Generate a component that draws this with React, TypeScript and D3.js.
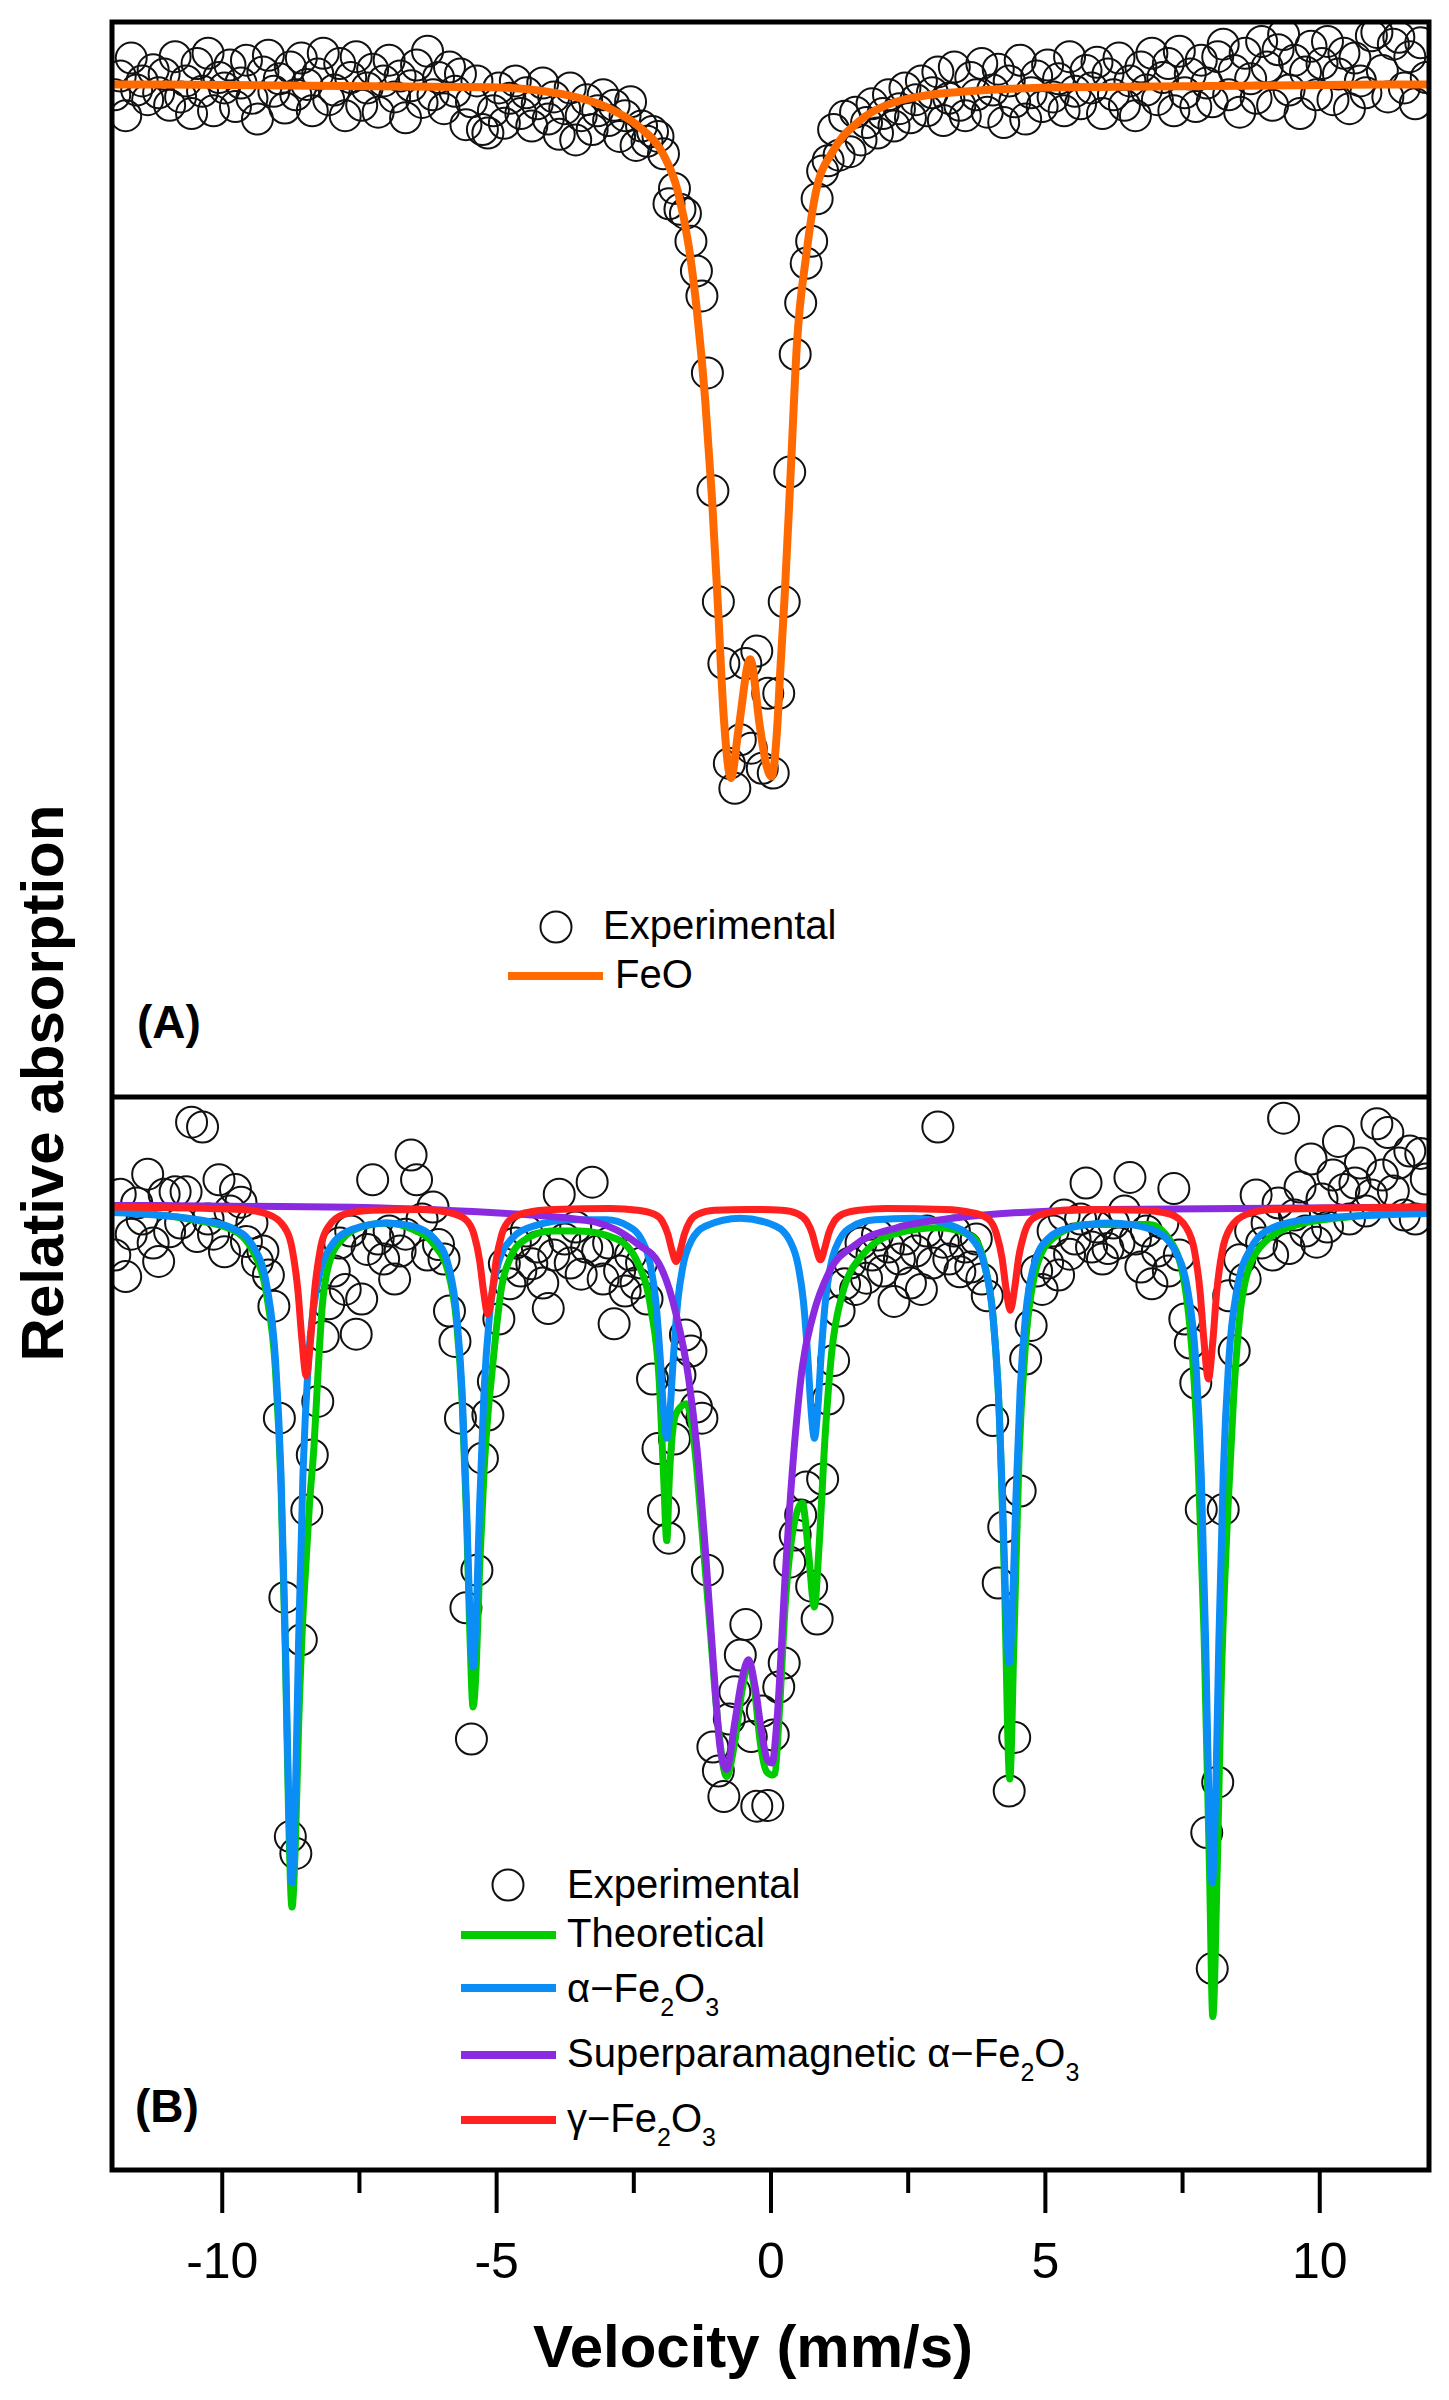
import * as d3 from 'd3';
import { useEffect, useRef } from 'react';

// channel velocities (mm/s), shared by both spectra
const velocity = [
  -11.95, -11.85, -11.75, -11.65, -11.55, -11.45, -11.35, -11.25, -11.15, -11.05,
  -10.95, -10.85, -10.75, -10.65, -10.55, -10.45, -10.35, -10.25, -10.15, -10.05,
  -9.95, -9.85, -9.75, -9.65, -9.55, -9.45, -9.35, -9.25, -9.15, -9.05,
  -8.95, -8.85, -8.75, -8.65, -8.55, -8.45, -8.35, -8.25, -8.15, -8.05,
  -7.95, -7.85, -7.75, -7.65, -7.55, -7.45, -7.35, -7.25, -7.15, -7.05,
  -6.95, -6.85, -6.75, -6.65, -6.55, -6.45, -6.35, -6.25, -6.15, -6.05,
  -5.95, -5.85, -5.75, -5.65, -5.55, -5.45, -5.35, -5.25, -5.15, -5.05,
  -4.95, -4.85, -4.75, -4.65, -4.55, -4.45, -4.35, -4.25, -4.15, -4.05,
  -3.95, -3.85, -3.75, -3.65, -3.55, -3.45, -3.35, -3.25, -3.15, -3.05,
  -2.95, -2.85, -2.75, -2.65, -2.55, -2.45, -2.35, -2.25, -2.15, -2.05,
  -1.95, -1.85, -1.75, -1.65, -1.55, -1.45, -1.35, -1.25, -1.15, -1.05,
  -0.95, -0.85, -0.75, -0.65, -0.55, -0.45, -0.35, -0.25, -0.15, -0.05,
  0.05, 0.15, 0.25, 0.35, 0.45, 0.55, 0.65, 0.75, 0.85, 0.95,
  1.05, 1.15, 1.25, 1.35, 1.45, 1.55, 1.65, 1.75, 1.85, 1.95,
  2.05, 2.15, 2.25, 2.35, 2.45, 2.55, 2.65, 2.75, 2.85, 2.95,
  3.05, 3.15, 3.25, 3.35, 3.45, 3.55, 3.65, 3.75, 3.85, 3.95,
  4.05, 4.15, 4.25, 4.35, 4.45, 4.55, 4.65, 4.75, 4.85, 4.95,
  5.05, 5.15, 5.25, 5.35, 5.45, 5.55, 5.65, 5.75, 5.85, 5.95,
  6.05, 6.15, 6.25, 6.35, 6.45, 6.55, 6.65, 6.75, 6.85, 6.95,
  7.05, 7.15, 7.25, 7.35, 7.45, 7.55, 7.65, 7.75, 7.85, 7.95,
  8.05, 8.15, 8.25, 8.35, 8.45, 8.55, 8.65, 8.75, 8.85, 8.95,
  9.05, 9.15, 9.25, 9.35, 9.45, 9.55, 9.65, 9.75, 9.85, 9.95,
  10.05, 10.15, 10.25, 10.35, 10.45, 10.55, 10.65, 10.75, 10.85, 10.95,
  11.05, 11.15, 11.25, 11.35, 11.45, 11.55, 11.65, 11.75, 11.85, 11.95,
];

// panel A: relative transmission (%) of the FeO sample
const feoMeasured = [
  99.85, 100.12, 99.55, 100.38, 99.92, 100.05, 99.78, 100.21, 99.88, 100.15,
  99.70, 100.40, 99.82, 100.05, 99.58, 100.30, 99.90, 100.45, 99.62, 100.10,
  99.95, 100.28, 99.68, 100.02, 100.35, 99.80, 99.50, 100.18, 100.42, 99.90,
  100.08, 99.66, 100.25, 99.85, 100.38, 100.00, 99.62, 100.15, 100.45, 99.78,
  99.92, 100.30, 99.55, 100.10, 100.40, 99.70, 99.95, 100.22, 99.60, 100.05,
  100.35, 99.82, 100.12, 99.52, 99.98, 100.28, 99.74, 100.48, 99.85, 100.10,
  99.65, 100.25, 99.90, 100.15, 99.42, 99.75, 100.05, 99.35, 99.30, 99.62,
  99.95, 99.44, 99.80, 100.05, 99.58, 99.88, 99.40, 99.72, 100.02, 99.50,
  99.82, 99.28, 99.65, 99.95, 99.20, 99.55, 99.78, 99.35, 99.62, 99.85,
  99.48, 99.70, 99.25, 99.55, 99.75, 99.12, 99.40, 99.18, 99.32, 99.25,
  99.00, 98.28, 98.50, 98.20, 98.14, 97.74, 97.31, 96.95, 95.84, 94.14,
  92.54, 91.65, 90.21, 89.85, 90.55, 91.65, 90.43, 91.83, 90.14, 91.22,
  90.07, 91.22, 92.54, 94.41, 96.11, 96.85, 97.42, 97.74, 98.35, 98.75,
  98.90, 99.35, 98.98, 99.54, 99.03, 99.60, 99.20, 99.45, 99.72, 99.30,
  99.58, 99.85, 99.40, 99.65, 99.95, 99.52, 99.78, 100.05, 99.62, 99.88,
  100.18, 99.48, 99.80, 100.25, 99.70, 99.55, 100.10, 99.85, 100.30, 99.60,
  99.92, 100.22, 99.45, 100.05, 99.75, 100.35, 99.50, 99.88, 100.12, 99.68,
  100.28, 99.82, 100.08, 99.62, 100.40, 99.90, 99.72, 100.20, 99.95, 100.32,
  99.58, 100.15, 99.85, 100.38, 99.70, 100.05, 99.55, 100.25, 99.92, 100.45,
  99.78, 100.10, 100.30, 99.62, 100.48, 99.88, 100.15, 99.68, 100.35, 100.02,
  99.75, 100.40, 100.58, 99.85, 100.20, 99.60, 100.45, 100.08, 99.80, 100.62,
  100.25, 99.70, 100.50, 100.72, 99.92, 100.35, 99.58, 100.18, 100.55, 99.85,
  100.30, 100.62, 99.78, 100.15, 100.45, 99.65, 100.38, 100.05, 99.88, 100.70,
  100.75, 100.20, 99.82, 100.58, 100.68, 99.95, 100.40, 99.72, 100.60, 100.10,
];

// panel B: relative transmission (%) of the iron oxide sample
const oxideMeasured = [
  99.40, 100.16, 99.13, 99.66, 100.05, 99.85, 100.41, 99.55, 99.32, 100.16,
  99.69, 100.19, 99.80, 100.19, 101.06, 99.63, 101.00, 99.85, 99.66, 100.34,
  99.44, 99.95, 100.22, 100.06, 99.57, 99.80, 99.32, 99.45, 99.15, 98.76,
  97.36, 95.12, 92.13, 91.92, 94.59, 96.21, 96.90, 97.57, 98.38, 98.79,
  99.20, 99.55, 98.97, 99.70, 98.41, 98.85, 99.47, 100.34, 99.60, 99.35,
  99.70, 99.10, 99.45, 99.66, 100.65, 100.34, 99.85, 99.40, 100.00, 99.53,
  99.35, 98.70, 98.32, 97.36, 94.99, 93.35, 95.46, 96.86, 97.40, 97.82,
  98.60, 99.29, 99.04, 99.55, 99.20, 99.70, 99.29, 99.50, 99.05, 98.73,
  99.40, 100.16, 99.60, 99.30, 99.75, 99.16, 99.50, 100.31, 99.45, 99.10,
  99.55, 98.54, 99.20, 98.95, 99.40, 99.05, 99.30, 98.85, 97.85, 96.98,
  96.21, 95.86, 97.10, 97.90, 98.40, 98.20, 97.50, 97.36, 95.46, 93.25,
  92.95, 92.63, 93.60, 93.94, 94.40, 94.78, 93.38, 92.51, 93.70, 92.52,
  93.40, 94.00, 94.30, 95.56, 95.90, 96.15, 96.50, 95.26, 94.85, 96.60,
  97.60, 98.08, 98.70, 99.04, 99.30, 98.97, 99.55, 99.11, 99.40, 99.65,
  99.20, 99.50, 98.82, 99.35, 99.60, 99.05, 99.45, 98.97, 99.70, 99.30,
  101.00, 99.56, 99.35, 99.70, 99.19, 99.50, 99.25, 99.60, 99.10, 98.89,
  97.33, 95.30, 96.00, 92.70, 93.37, 96.45, 98.10, 98.52, 99.20, 98.97,
  99.30, 99.70, 99.15, 99.90, 99.41, 99.60, 99.85, 100.30, 99.50, 99.75,
  99.35, 99.48, 99.80, 99.55, 99.95, 100.37, 99.60, 99.25, 99.70, 99.04,
  99.45, 99.80, 99.20, 100.23, 99.40, 98.60, 98.30, 97.80, 96.22, 92.18,
  90.48, 92.81, 96.22, 98.89, 98.20, 99.34, 99.10, 99.70, 100.15, 99.55,
  99.80, 99.40, 100.05, 101.11, 99.48, 99.90, 100.25, 99.70, 100.60, 99.56,
  100.10, 99.75, 100.40, 100.82, 100.22, 99.85, 100.30, 100.55, 99.95, 100.15,
  101.04, 100.40, 100.93, 100.20, 100.55, 99.90, 100.70, 99.85, 100.67, 100.35,
];

// fitted curves, [velocity, transmission %]
const feoFit: [number, number][] = [
  [-12, 100.0], [-5.1, 99.96], [-3.56, 99.82], [-2.8, 99.6], [-2.35, 99.36], [-1.96, 99.0],
  [-1.69, 98.46], [-1.49, 97.67], [-1.34, 96.73], [-1.19, 95.45], [-1.07, 94.08], [-0.96, 92.51],
  [-0.85, 90.86], [-0.72, 90.0], [-0.58, 90.72], [-0.37, 91.71], [-0.19, 90.72], [-0.08, 90.2],
  [0.02, 90.02], [0.12, 90.7], [0.18, 91.57], [0.26, 92.65], [0.37, 94.44], [0.48, 96.24],
  [0.65, 97.53], [0.83, 98.46], [1.14, 99.04], [1.6, 99.46], [2.29, 99.75], [3.43, 99.89],
  [5.37, 99.96], [12, 100.0],
];

const theoretical: [number, number][] = [
  [-12, 99.94], [-10.52, 99.84], [-9.82, 99.72], [-9.42, 99.43], [-9.17, 98.85], [-9.02, 97.95],
  [-8.92, 96.5], [-8.84, 94.4], [-8.78, 92.35], [-8.72, 91.25], [-8.66, 92.0], [-8.6, 93.5],
  [-8.52, 94.9], [-8.46, 95.6], [-8.4, 96.3], [-8.32, 97.0], [-8.24, 98.0], [-8.17, 98.75],
  [-8.02, 99.35], [-7.8, 99.6], [-7.4, 99.76], [-7.0, 99.8], [-6.52, 99.72], [-6.12, 99.52],
  [-5.87, 99.18], [-5.72, 98.55], [-5.62, 97.58], [-5.54, 96.15], [-5.48, 94.7], [-5.42, 93.75],
  [-5.36, 94.3], [-5.3, 95.5], [-5.22, 96.7], [-5.15, 97.4], [-5.08, 97.9], [-5.0, 98.45],
  [-4.9, 99.0], [-4.75, 99.35], [-4.5, 99.58], [-4.0, 99.7], [-3.5, 99.7], [-2.8, 99.6],
  [-2.41, 99.29], [-2.18, 98.73], [-2.03, 97.85], [-1.95, 96.67], [-1.89, 95.83], [-1.84, 96.67],
  [-1.72, 97.42], [-1.53, 97.54], [-1.38, 96.98], [-1.26, 96.05], [-1.11, 94.81], [-0.96, 93.56],
  [-0.8, 92.88], [-0.65, 93.32], [-0.52, 93.95], [-0.4, 94.31], [-0.28, 93.9], [-0.19, 93.32],
  [-0.07, 92.94], [0.03, 92.9], [0.08, 92.92], [0.15, 93.55], [0.27, 95.04], [0.42, 96.0],
  [0.58, 96.3], [0.69, 95.7], [0.8, 95.0], [0.88, 95.7], [1.0, 97.19], [1.11, 98.15],
  [1.3, 98.89], [1.69, 99.41], [2.3, 99.67], [3.07, 99.74], [3.68, 99.63], [3.91, 99.26],
  [4.07, 98.52], [4.18, 97.26], [4.26, 95.41], [4.36, 92.85], [4.44, 94.67], [4.53, 96.89],
  [4.64, 98.22], [4.8, 99.11], [5.07, 99.56], [5.76, 99.78], [6.9, 99.78], [7.37, 99.48],
  [7.64, 98.52], [7.79, 96.89], [7.9, 94.67], [8.0, 91.7], [8.06, 89.88], [8.14, 91.7],
  [8.21, 93.93], [8.33, 96.15], [8.44, 97.63], [8.6, 98.89], [8.9, 99.48], [9.6, 99.78],
  [10.74, 99.89], [12, 99.97],
];

const alphaFe2O3: [number, number][] = [
  [-12, 99.93], [-10.52, 99.85], [-9.82, 99.74], [-9.42, 99.5], [-9.17, 98.98], [-9.02, 98.08],
  [-8.92, 96.66], [-8.84, 94.56], [-8.78, 92.58], [-8.72, 91.55], [-8.66, 92.58], [-8.6, 94.56],
  [-8.52, 96.66], [-8.42, 98.08], [-8.27, 98.98], [-8.02, 99.5], [-7.62, 99.72], [-7.0, 99.8],
  [-6.52, 99.76], [-6.12, 99.6], [-5.87, 99.27], [-5.72, 98.65], [-5.62, 97.7], [-5.54, 96.29],
  [-5.48, 94.95], [-5.42, 94.25], [-5.36, 94.95], [-5.3, 96.29], [-5.22, 97.7], [-5.12, 98.65],
  [-4.97, 99.27], [-4.72, 99.6], [-4.32, 99.76], [-3.6, 99.84], [-2.99, 99.84], [-2.59, 99.76],
  [-2.34, 99.58], [-2.19, 99.28], [-2.09, 98.82], [-2.01, 98.12], [-1.95, 97.46], [-1.89, 97.11],
  [-1.83, 97.46], [-1.77, 98.12], [-1.69, 98.82], [-1.59, 99.28], [-1.44, 99.58], [-1.19, 99.76],
  [-0.55, 99.86], [0.1, 99.76], [0.35, 99.58], [0.5, 99.28], [0.6, 98.82], [0.68, 98.12],
  [0.74, 97.46], [0.8, 97.11], [0.86, 97.46], [0.92, 98.12], [1.0, 98.82], [1.1, 99.28],
  [1.25, 99.58], [1.5, 99.76], [1.9, 99.84], [2.6, 99.86], [3.25, 99.78], [3.65, 99.62],
  [3.9, 99.27], [4.05, 98.66], [4.15, 97.72], [4.23, 96.32], [4.29, 94.99], [4.35, 94.3],
  [4.41, 94.99], [4.47, 96.32], [4.55, 97.72], [4.65, 98.66], [4.8, 99.27], [5.05, 99.6],
  [5.45, 99.74], [6.2, 99.8], [6.95, 99.72], [7.35, 99.48], [7.6, 98.97], [7.75, 98.07],
  [7.85, 96.65], [7.93, 94.56], [7.99, 92.58], [8.05, 91.55], [8.11, 92.58], [8.17, 94.56],
  [8.25, 96.65], [8.35, 98.07], [8.5, 98.97], [8.75, 99.48], [9.15, 99.74], [9.85, 99.85],
  [12, 99.92],
];

const superparaAlpha: [number, number][] = [
  [-12, 100.02], [-8, 100.0], [-5.1, 99.93], [-3.56, 99.85], [-3.18, 99.81], [-2.8, 99.71],
  [-2.41, 99.53], [-2.03, 99.29], [-1.72, 98.66], [-1.49, 97.85], [-1.34, 96.98], [-1.19, 95.74],
  [-1.03, 94.19], [-0.92, 93.25], [-0.8, 92.97], [-0.65, 93.56], [-0.52, 94.1], [-0.4, 94.34],
  [-0.28, 94.0], [-0.15, 93.38], [-0.05, 93.08], [0.03, 93.05], [0.12, 93.6], [0.27, 95.41],
  [0.42, 96.89], [0.58, 98.0], [0.77, 98.63], [1.07, 99.19], [1.53, 99.52], [2.3, 99.74],
  [3.2, 99.85], [6.1, 99.97], [12, 100.0],
];

const gammaFe2O3: [number, number][] = [
  [-12, 100.0], [-9.66, 99.97], [-9.16, 99.91], [-8.86, 99.75], [-8.71, 99.45], [-8.61, 98.94],
  [-8.54, 98.35], [-8.46, 97.89], [-8.38, 98.35], [-8.31, 98.94], [-8.21, 99.45], [-8.06, 99.75],
  [-7.76, 99.91], [-7.26, 99.96], [-6.35, 99.97], [-5.85, 99.93], [-5.55, 99.84], [-5.4, 99.65],
  [-5.3, 99.33], [-5.23, 98.95], [-5.15, 98.66], [-5.07, 98.95], [-5.0, 99.33], [-4.9, 99.65],
  [-4.75, 99.84], [-4.45, 99.93], [-3.95, 99.97], [-2.92, 99.98], [-2.42, 99.96], [-2.12, 99.91],
  [-1.97, 99.82], [-1.87, 99.66], [-1.8, 99.47], [-1.72, 99.32], [-1.64, 99.47], [-1.57, 99.66],
  [-1.47, 99.82], [-1.32, 99.91], [-1.02, 99.96], [-0.4, 99.97], [0.21, 99.96], [0.51, 99.91],
  [0.66, 99.82], [0.76, 99.67], [0.83, 99.49], [0.91, 99.34], [0.99, 99.49], [1.06, 99.67],
  [1.16, 99.82], [1.31, 99.91], [1.61, 99.96], [2.11, 99.98], [3.17, 99.97], [3.67, 99.93],
  [3.97, 99.85], [4.12, 99.66], [4.22, 99.36], [4.29, 98.99], [4.37, 98.71], [4.45, 98.99],
  [4.52, 99.36], [4.62, 99.66], [4.77, 99.85], [5.07, 99.93], [5.57, 99.97], [6.78, 99.96],
  [7.28, 99.91], [7.58, 99.74], [7.73, 99.44], [7.83, 98.93], [7.9, 98.32], [7.98, 97.85],
  [8.06, 98.32], [8.13, 98.93], [8.23, 99.44], [8.38, 99.74], [8.68, 99.91], [9.18, 99.97],
  [12, 100.0],
];

const majorTicks = [-10, -5, 0, 5, 10];
const minorTicks = [-7.5, -2.5, 2.5, 7.5];

const FONT = "'Liberation Sans', Arial, Helvetica, sans-serif";

function MossbauerChart() {
  const svgRef = useRef<SVGSVGElement>(null);

  useEffect(() => {
    const width = 1449, height = 2400;
    const left = 112, right = 1429, top = 22, mid = 1097, bottom = 2170;

    const svg = d3.select(svgRef.current);
    svg.selectAll('*').remove();
    svg.attr('width', width).attr('height', height);

    const x = d3.scaleLinear().domain([-12, 12]).range([left, right]);
    const yA = d3.scaleLinear().domain([100.9, 85.4]).range([top, mid]);
    const yB = d3.scaleLinear().domain([101.375, 87.9625]).range([mid, bottom]);

    const defs = svg.append('defs');
    defs.append('clipPath').attr('id', 'clipA')
      .append('rect').attr('x', left).attr('y', top).attr('width', right - left).attr('height', mid - top);
    defs.append('clipPath').attr('id', 'clipB')
      .append('rect').attr('x', left).attr('y', mid).attr('width', right - left).attr('height', bottom - mid);

    // panel A
    const gA = svg.append('g').attr('clip-path', 'url(#clipA)');
    gA.selectAll('circle')
      .data(velocity.map((v, i) => [v, feoMeasured[i]]))
      .join('circle')
      .attr('cx', d => x(d[0]))
      .attr('cy', d => yA(d[1]))
      .attr('r', 15.5)
      .attr('fill', 'none')
      .attr('stroke', '#111')
      .attr('stroke-width', 2);

    const lineA = d3.line<[number, number]>()
      .x(d => x(d[0]))
      .y(d => yA(d[1]))
      .curve(d3.curveMonotoneX);

    gA.append('path')
      .datum(feoFit)
      .attr('fill', 'none')
      .attr('stroke', '#ff6a00')
      .attr('stroke-width', 8)
      .attr('d', lineA);

    // panel B
    const gB = svg.append('g').attr('clip-path', 'url(#clipB)');
    gB.selectAll('circle')
      .data(velocity.map((v, i) => [v, oxideMeasured[i]]))
      .join('circle')
      .attr('cx', d => x(d[0]))
      .attr('cy', d => yB(d[1]))
      .attr('r', 15.5)
      .attr('fill', 'none')
      .attr('stroke', '#111')
      .attr('stroke-width', 2);

    const lineB = d3.line<[number, number]>()
      .x(d => x(d[0]))
      .y(d => yB(d[1]))
      .curve(d3.curveMonotoneX);

    const seriesB: { data: [number, number][]; color: string }[] = [
      { data: theoretical, color: '#00cc00' },
      { data: alphaFe2O3, color: '#0a8df5' },
      { data: superparaAlpha, color: '#8a2be2' },
      { data: gammaFe2O3, color: '#ff2020' },
    ];
    seriesB.forEach(s => {
      gB.append('path')
        .datum(s.data)
        .attr('fill', 'none')
        .attr('stroke', s.color)
        .attr('stroke-width', 7)
        .attr('d', lineB);
    });

    // frame
    svg.append('rect')
      .attr('x', left).attr('y', top)
      .attr('width', right - left).attr('height', bottom - top)
      .attr('fill', 'none').attr('stroke', '#000').attr('stroke-width', 5);
    svg.append('line')
      .attr('x1', left).attr('x2', right).attr('y1', mid).attr('y2', mid)
      .attr('stroke', '#000').attr('stroke-width', 5);

    // x axis
    const axisMajor = d3.axisBottom(x)
      .tickValues(majorTicks)
      .tickSize(43)
      .tickPadding(29)
      .tickFormat(d => String(d));
    const gMajor = svg.append('g')
      .attr('transform', `translate(0,${bottom})`)
      .call(axisMajor);
    gMajor.select('.domain').remove();
    gMajor.selectAll('line').attr('stroke', '#000').attr('stroke-width', 4);
    gMajor.selectAll('text')
      .attr('fill', '#000')
      .style('font-family', FONT)
      .style('font-size', '50px');

    const axisMinor = d3.axisBottom(x)
      .tickValues(minorTicks)
      .tickSize(23)
      .tickFormat(() => '');
    const gMinor = svg.append('g')
      .attr('transform', `translate(0,${bottom})`)
      .call(axisMinor);
    gMinor.select('.domain').remove();
    gMinor.selectAll('line').attr('stroke', '#000').attr('stroke-width', 4);

    // axis titles
    svg.append('text')
      .attr('x', 753)
      .attr('y', 2367)
      .attr('text-anchor', 'middle')
      .style('font-family', FONT)
      .style('font-weight', 'bold')
      .style('font-size', '60px')
      .text('Velocity (mm/s)');

    svg.append('text')
      .attr('transform', 'translate(63,1083) rotate(-90)')
      .attr('text-anchor', 'middle')
      .style('font-family', FONT)
      .style('font-weight', 'bold')
      .style('font-size', '60px')
      .text('Relative absorption');

    // panel labels
    svg.append('text')
      .attr('x', 137).attr('y', 1038)
      .style('font-family', FONT).style('font-weight', 'bold').style('font-size', '46px')
      .text('(A)');
    svg.append('text')
      .attr('x', 135).attr('y', 2122)
      .style('font-family', FONT).style('font-weight', 'bold').style('font-size', '46px')
      .text('(B)');

    // legend A
    const legA = svg.append('g').style('font-family', FONT).style('font-size', '40px');
    legA.append('circle')
      .attr('cx', 556).attr('cy', 927).attr('r', 15.5)
      .attr('fill', 'none').attr('stroke', '#111').attr('stroke-width', 2);
    legA.append('text').attr('x', 603).attr('y', 939).text('Experimental');
    legA.append('line')
      .attr('x1', 508).attr('x2', 603).attr('y1', 976).attr('y2', 976)
      .attr('stroke', '#ff6a00').attr('stroke-width', 8);
    legA.append('text').attr('x', 615).attr('y', 988).text('FeO');

    // legend B
    const legB = svg.append('g').style('font-family', FONT).style('font-size', '40px');
    legB.append('circle')
      .attr('cx', 508).attr('cy', 1885).attr('r', 15.5)
      .attr('fill', 'none').attr('stroke', '#111').attr('stroke-width', 2);
    legB.append('text').attr('x', 567).attr('y', 1898).text('Experimental');

    const legendRows: { color: string; lineY: number; textY: number; prefix: string; oxide: boolean }[] = [
      { color: '#00cc00', lineY: 1935, textY: 1947, prefix: 'Theoretical', oxide: false },
      { color: '#0a8df5', lineY: 1988, textY: 2002, prefix: 'α−Fe', oxide: true },
      { color: '#8a2be2', lineY: 2055, textY: 2067, prefix: 'Superparamagnetic α−Fe', oxide: true },
      { color: '#ff2020', lineY: 2120, textY: 2132, prefix: 'γ−Fe', oxide: true },
    ];
    legendRows.forEach(r => {
      legB.append('line')
        .attr('x1', 461).attr('x2', 556).attr('y1', r.lineY).attr('y2', r.lineY)
        .attr('stroke', r.color).attr('stroke-width', 8);
      const t = legB.append('text').attr('x', 567).attr('y', r.textY);
      t.append('tspan').text(r.prefix);
      if (r.oxide) {
        t.append('tspan').attr('dy', 14).style('font-size', '25px').text('2');
        t.append('tspan').attr('dy', -14).text('O');
        t.append('tspan').attr('dy', 14).style('font-size', '25px').text('3');
      }
    });
  }, []);

  return <svg ref={svgRef} style={{ position: 'absolute', left: 0, top: 0, background: '#fff' }} />;
}

export default function App() {
  return <MossbauerChart />;
}
